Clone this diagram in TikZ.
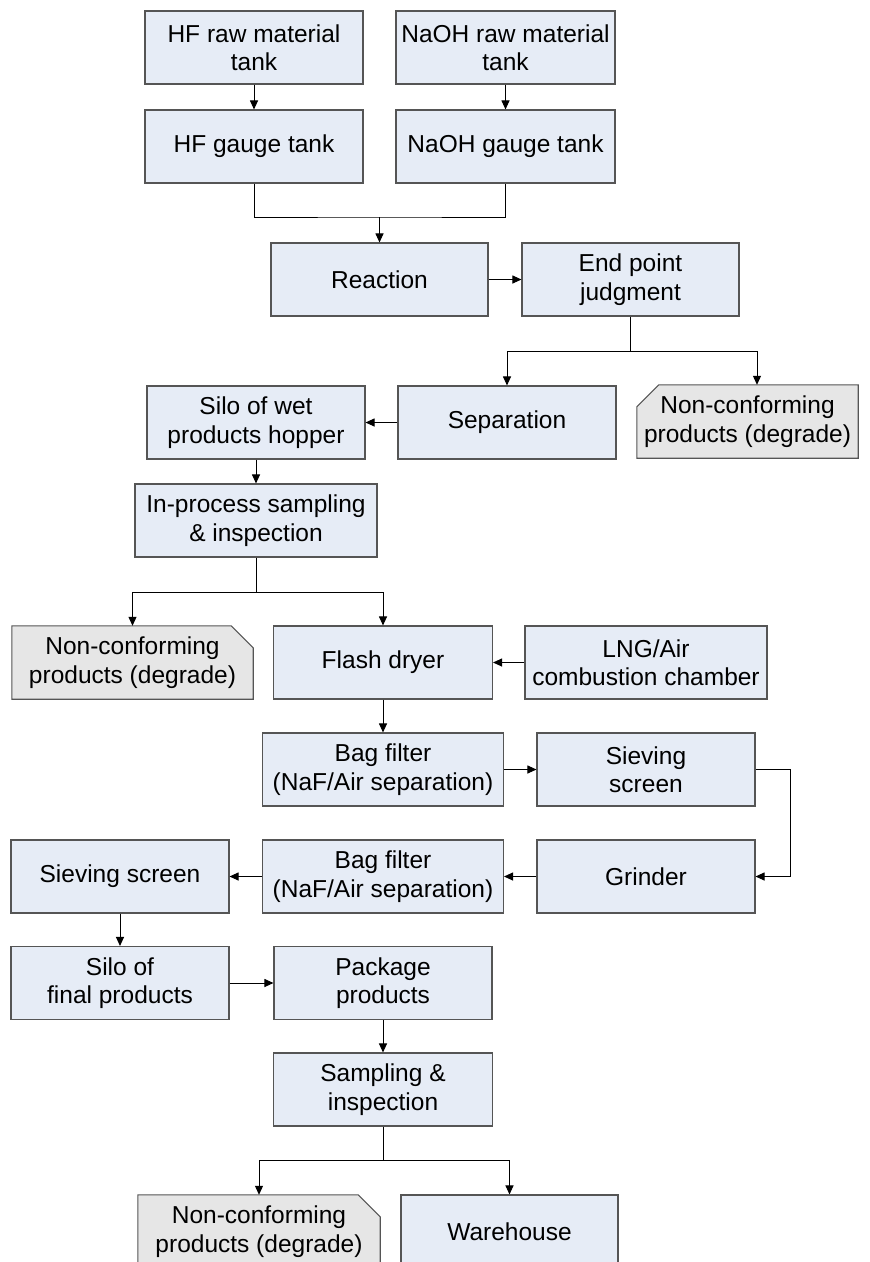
\documentclass[tikz,border=0pt]{standalone}
\usepackage{fontspec}
\setmainfont{Liberation Sans}
\usetikzlibrary{arrows.meta,backgrounds}
\definecolor{boxfill}{RGB}{230,236,246}
\definecolor{ncfill}{RGB}{230,230,230}
\definecolor{boxline}{RGB}{85,85,85}
\tikzset{
  txt/.style={inner sep=0pt, align=center, minimum height=73pt, font=\fontsize{24.5}{28.5}\selectfont},
  procbox/.style={txt, draw=boxline, fill=boxfill, line width=1.1pt},
  ncbox/.style={txt},
  ncshape/.style={draw=boxline, fill=ncfill, line width=1.1pt},
  conn/.style={line width=1pt, draw=black},
  arr/.style={conn, -{Triangle[length=9pt,width=8pt]}},
}
\begin{document}
\begin{tikzpicture}[x=1pt,y=-1pt]
\useasboundingbox (0,0) rectangle (870,1262);
\clip (0,0) rectangle (870,1262);

% row 1-2
\node[procbox, minimum width=218pt] (hfraw) at (254,47.5) {HF raw material\\tank};
\node[procbox, minimum width=219pt] (naohraw) at (505.5,47.5) {NaOH raw material\\tank};
\node[procbox, minimum width=218pt] (hfgauge) at (254,146.5) {HF gauge tank};
\node[procbox, minimum width=219pt] (naohgauge) at (505.5,146.5) {NaOH gauge tank};
% row 3
\node[procbox, minimum width=217pt] (reaction) at (379.5,279.5) {Reaction};
\node[procbox, minimum width=217pt] (endpt) at (630.5,279.5) {End point\\judgment};
% row 4
\node[procbox, minimum width=218pt] (silowet) at (256,422.5) {Silo of wet\\products hopper};
\node[procbox, minimum width=218pt] (sep) at (507,422.5) {Separation};
\node[ncbox, minimum width=221pt] (nc1) at (747.5,421.5) {Non-conforming\\products (degrade)};
% row 5
\node[procbox, minimum width=242pt] (inproc) at (256,520.5) {In-process sampling\\\& inspection};
% row 6
\node[ncbox, minimum width=241pt] (nc2) at (132.5,662.5) {Non-conforming\\products (degrade)};
\node[procbox, minimum width=219pt] (flash) at (383,662.5) {Flash dryer};
\node[procbox, minimum width=242pt] (lng) at (646,662.5) {LNG/Air\\combustion chamber};
% row 7
\node[procbox, minimum width=241pt] (bag1) at (383,769.5) {Bag filter\\(NaF/Air separation)};
\node[procbox, minimum width=218pt] (sieve1) at (646,769.5) {Sieving\\screen};
% row 8
\node[procbox, minimum width=218pt] (sieve2) at (120,876.5) {Sieving screen};
\node[procbox, minimum width=241pt] (bag2) at (383,876.5) {Bag filter\\(NaF/Air separation)};
\node[procbox, minimum width=218pt] (grinder) at (646,876.5) {Grinder};
% row 9
\node[procbox, minimum width=218pt] (silofin) at (120,983) {Silo of\\final products};
\node[procbox, minimum width=218pt] (package) at (383,983) {Package\\products};
% row 10
\node[procbox, minimum width=219pt] (sampling) at (383,1089.5) {Sampling \&\\inspection};
% row 11
\node[ncbox, minimum width=242pt] (nc3) at (259,1231.5) {Non-conforming\\products (degrade)};
\node[procbox, minimum width=217pt] (warehouse) at (509.5,1231.5) {Warehouse};

% chamfered grey shapes
\begin{scope}[on background layer]
\draw[ncshape] ([xshift=22pt]nc1.north west) -- (nc1.north east) -- (nc1.south east) -- (nc1.south west) -- ([yshift=-22pt]nc1.north west) -- cycle;
\draw[ncshape] (nc2.north west) -- ([xshift=-22pt]nc2.north east) -- ([yshift=-22pt]nc2.north east) -- (nc2.south east) -- (nc2.south west) -- cycle;
\draw[ncshape] (nc3.north west) -- ([xshift=-22pt]nc3.north east) -- ([yshift=-22pt]nc3.north east) -- (nc3.south east) -- (nc3.south west) -- cycle;
\end{scope}

% connectors
\draw[arr] (hfraw) -- (hfgauge);
\draw[arr] (naohraw) -- (naohgauge);
\coordinate (mg) at (379.5,217);
\draw[conn] (hfgauge.south) |- (mg) -| (naohgauge.south);
\draw[arr] (mg) -- (reaction.north);
\draw[arr] (reaction) -- (endpt);
\coordinate (s1) at (630.5,351);
\draw[conn] (endpt.south) -- (s1);
\draw[arr] (s1) -| (sep.north);
\draw[arr] (s1) -| ([xshift=9.5pt]nc1.north);
\draw[arr] (sep) -- (silowet);
\draw[arr] (silowet) -- (inproc);
\coordinate (s2) at (256,592);
\draw[conn] (inproc.south) -- (s2);
\draw[arr] (s2) -| (nc2.north);
\draw[arr] (s2) -| (flash.north);
\draw[arr] (lng) -- (flash);
\draw[arr] (flash) -- (bag1);
\draw[arr] (bag1) -- (sieve1);
\draw[arr] (sieve1.east) -- ++(35,0) |- (grinder.east);
\draw[arr] (grinder) -- (bag2);
\draw[arr] (bag2) -- (sieve2);
\draw[arr] (sieve2) -- (silofin);
\draw[arr] (silofin) -- (package);
\draw[arr] (package) -- (sampling);
\coordinate (s3) at (383,1160);
\draw[conn] (sampling.south) -- (s3);
\draw[arr] (s3) -| (nc3.north);
\draw[arr] (s3) -| (warehouse.north);
\end{tikzpicture}
\end{document}
